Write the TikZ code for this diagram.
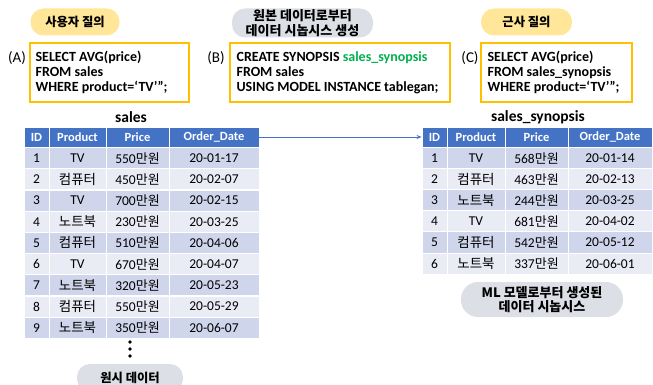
\documentclass[tikz,border=0pt]{standalone}
\usepackage{fontspec}
\setmainfont{Carlito}
\newfontfamily\kr{Noto Sans CJK KR}
\usetikzlibrary{arrows.meta}
\definecolor{hdrblue}{HTML}{4472C4}
\definecolor{rowdark}{HTML}{CFD5EA}
\definecolor{rowlight}{HTML}{E9EBF5}
\definecolor{boxedge}{HTML}{FFC000}
\definecolor{pillyellow}{HTML}{FFE699}
\definecolor{pillgray}{HTML}{DCDFE5}
\definecolor{synogreen}{HTML}{00B050}
\newcommand{\kt}[1]{{\kr\fontsize{13.5}{15}\selectfont #1}}
\newcommand{\won}[1]{#1{\kr\fontsize{13}{15}\selectfont 만원}}
\begin{document}
\begin{tikzpicture}[x=1pt,y=-1pt,
  cell/.style={draw=white, line width=0.9pt, minimum height=21.1pt, inner sep=0pt,
    font=\fontsize{13.5}{15}\selectfont},
  hdr/.style={cell, minimum height=20pt, fill=hdrblue, text=white, font=\bfseries\fontsize{12.5}{14}\selectfont},
  qbox/.style={draw=boxedge, line width=1.2pt, fill=white, inner sep=0pt, minimum height=59pt},
  qtext/.style={anchor=west, inner sep=0pt, align=left, font=\bfseries\fontsize{14}{15}\selectfont},
  pill/.style={rounded corners=13pt, inner sep=0pt, align=center,
    font=\kr\bfseries\fontsize{12.3}{14}\selectfont},
  pilltwo/.style={pill, font=\kr\bfseries\fontsize{13}{14.5}\selectfont},
  lbl/.style={font=\fontsize{15}{17}\selectfont, inner sep=0pt},
  ttl/.style={font=\bfseries\fontsize{15.5}{17}\selectfont, inner sep=0pt}
]
\useasboundingbox (0,0) rectangle (653,385);
\clip (0,0) rectangle (653,385);

% ---------- top pills ----------
\node[pill, fill=pillyellow, minimum width=89pt, minimum height=27pt] (pA) at (75,22) {사용자 질의};
\node[pilltwo, fill=pillgray, minimum width=141pt, minimum height=29pt] (pB) at (302.5,23) {원본 데이터로부터\\데이터 시놉시스 생성};
\node[pill, fill=pillyellow, minimum width=91pt, minimum height=27pt] (pC) at (526.5,22) {근사 질의};

% ---------- query boxes ----------
\node[qbox, minimum width=159pt] (qA) at (109.5,72.5) {};
\node[qtext] (qAt) at ([xshift=6pt]qA.west)
  {SELECT AVG(price)\\FROM sales\\WHERE product=‘TV’”;};
\node[qbox, minimum width=220pt] (qB) at (340,72.5) {};
\node[qtext] (qBt) at ([xshift=7pt]qB.west)
  {CREATE SYNOPSIS \textcolor{synogreen}{sales\_synopsis}\\FROM sales\\USING MODEL INSTANCE tablegan;};
\node[qbox, minimum width=151pt] (qC) at (556.5,72.5) {};
\node[qtext] (qCt) at ([xshift=7pt]qC.west)
  {SELECT AVG(price)\\FROM sales\_synopsis\\WHERE product=‘TV’”;};
\node[lbl] (lA) at (17,58) {(A)};
\node[lbl] (lB) at (216,58) {(B)};
\node[lbl] (lC) at (470,58) {(C)};

% ---------- titles ----------
\node[ttl] (tL) at (131,117) {sales};
\node[ttl] (tR) at (538,117) {sales\_synopsis};

% ---------- left table ----------
\node[hdr, minimum width=25pt] (Lh-id) at (36.5,137) {ID};
\node[hdr, minimum width=57pt] (Lh-prod) at (77.5,137) {Product};
\node[hdr, minimum width=63pt] (Lh-price) at (137.5,137) {Price};
\node[hdr, minimum width=90pt] (Lh-date) at (214,137) {Order\_Date};
\foreach \i/\p/\pr/\d in {1/TV/550/20-01-17, 2/\kt{컴퓨터}/450/20-02-07, 3/TV/700/20-02-15,
    4/\kt{노트북}/230/20-03-25, 5/\kt{컴퓨터}/510/20-04-06, 6/TV/670/20-04-07,
    7/\kt{노트북}/320/20-05-23, 8/\kt{컴퓨터}/550/20-05-29, 9/\kt{노트북}/350/20-06-07} {
  \pgfmathsetmacro{\yc}{147.5+(\i-0.5)*21.2}
  \pgfmathtruncatemacro{\odd}{mod(\i,2)}
  \ifnum\odd=1 \def\rc{rowdark}\else\def\rc{rowlight}\fi
  \node[cell, fill=\rc, minimum width=25pt] (L\i-id) at (36.5,\yc) {\i};
  \node[cell, fill=\rc, minimum width=57pt] (L\i-prod) at (77.5,\yc) {\p};
  \node[cell, fill=\rc, minimum width=63pt] (L\i-price) at (137.5,\yc) {\won{\pr}};
  \node[cell, fill=\rc, minimum width=90pt] (L\i-date) at (214,\yc) {\d};
}
% dots
\foreach \k/\yy in {1/342, 2/349, 3/356}
  \fill (130,\yy) circle (1.9pt);
\node[pill, fill=pillgray, minimum width=106pt, minimum height=28pt] (pRaw) at (130,378) {원시 데이터};

% ---------- right table ----------
\node[hdr, minimum width=25pt] (Rh-id) at (434.5,137) {ID};
\node[hdr, minimum width=58pt] (Rh-prod) at (476,137) {Product};
\node[hdr, minimum width=63pt] (Rh-price) at (536.5,137) {Price};
\node[hdr, minimum width=84pt] (Rh-date) at (610,137) {Order\_Date};
\foreach \i/\p/\pr/\d in {1/TV/568/20-01-14, 2/\kt{컴퓨터}/463/20-02-13, 3/\kt{노트북}/244/20-03-25,
    4/TV/681/20-04-02, 5/\kt{컴퓨터}/542/20-05-12, 6/\kt{노트북}/337/20-06-01} {
  \pgfmathsetmacro{\yc}{147.5+(\i-0.5)*21.1}
  \pgfmathtruncatemacro{\odd}{mod(\i,2)}
  \ifnum\odd=1 \def\rc{rowdark}\else\def\rc{rowlight}\fi
  \node[cell, fill=\rc, minimum width=25pt] (R\i-id) at (434.5,\yc) {\i};
  \node[cell, fill=\rc, minimum width=58pt] (R\i-prod) at (476,\yc) {\p};
  \node[cell, fill=\rc, minimum width=63pt] (R\i-price) at (536.5,\yc) {\won{\pr}};
  \node[cell, fill=\rc, minimum width=84pt] (R\i-date) at (610,\yc) {\d};
}
\node[pilltwo, rounded corners=17pt, fill=pillgray, minimum width=162pt, minimum height=35pt] (pML) at (542,299.5)
  {ML 모델로부터 생성된\\데이터 시놉시스};

% ---------- connector ----------
\draw[hdrblue, line width=0.8pt, -{Stealth[length=5pt,width=4pt]}] (Lh-date.east) -- (Rh-id.west);
\end{tikzpicture}
\end{document}
